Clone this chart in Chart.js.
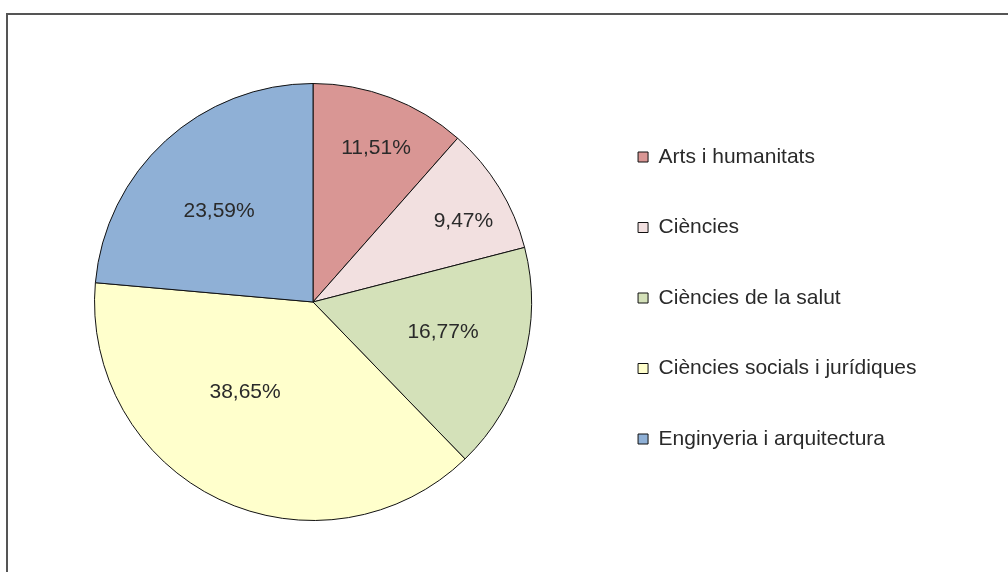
<!DOCTYPE html>
<html lang="ca">
<head>
<meta charset="utf-8">
<title>Matrícula per àmbits</title>
<script src="https://cdn.jsdelivr.net/npm/chart.js@4/dist/chart.umd.min.js"></script>
<style>
  html, body { margin: 0; padding: 0; background: #fff; overflow: hidden; }
  #wrap  { position: relative; width: 1008px; height: 572px; }
  #frame {
    position: absolute; left: 6px; top: 13px; width: 1010px; height: 570px;
    border-left: 2px solid #555; border-top: 2px solid #555;
  }
  canvas { position: absolute; left: 0; top: 0; }
</style>
</head>
<body>
<div id="wrap">
  <div id="frame"></div>
  <canvas id="pie-chart" width="1008" height="572"></canvas>
</div>
<script>
/* ── Data ── */
const AREAS  = ['Arts i humanitats', 'Ciències', 'Ciències de la salut', 'Ciències socials i jurídiques', 'Enginyeria i arquitectura'];
const SHARES = [11.51, 9.47, 16.77, 38.65, 23.59];

/* ── Styles ── */
const SLICE_COLORS = ['#d99694', '#f2e0e0', '#d4e1b9', '#ffffcc', '#8fb0d6'];
// label placement: distance as fraction of radius, and a small turn (deg) off the slice middle
const LABEL_RADIUS = [0.762, 0.782, 0.611, 0.518, 0.599];
const LABEL_TURN   = [1.5, 3.2, -2.5, 11.4, -3.4];
const FONT_FAMILY  = '"Liberation Sans", Arial, sans-serif';
const FONT_SIZE    = 21;
const TEXT_COLOR   = '#2a2a2a';

/* ── Percentage labels inside slices ── */
const sliceLabels = {
  id: 'sliceLabels',
  afterDatasetsDraw(chart) {
    const { ctx } = chart;
    const meta = chart.getDatasetMeta(0);
    ctx.save();
    ctx.font = FONT_SIZE + 'px ' + FONT_FAMILY;
    ctx.fillStyle = TEXT_COLOR;
    ctx.textAlign = 'center';
    ctx.textBaseline = 'middle';
    meta.data.forEach((arc, i) => {
      const p   = arc.getProps(['x', 'y', 'startAngle', 'endAngle', 'outerRadius'], true);
      const ang = (p.startAngle + p.endAngle) / 2 + LABEL_TURN[i] * Math.PI / 180;
      const r   = p.outerRadius * LABEL_RADIUS[i];
      const txt = SHARES[i].toFixed(2).replace('.', ',') + '%';
      ctx.fillText(txt, p.x + Math.cos(ang) * r, p.y + Math.sin(ang) * r);
    });
    ctx.restore();
  },
};

/* ── Lift legend a few px so it sits like the original ── */
const legendNudge = {
  id: 'legendNudge',
  afterLayout(chart) {
    if (!chart.legend) return;
    chart.legend.top    -= 4;
    chart.legend.bottom -= 4;
  },
};

/* ── Pie ── */
new Chart(document.getElementById('pie-chart'), {
  type: 'pie',
  data: {
    labels: AREAS,
    datasets: [{
      data:            SHARES,
      backgroundColor: SLICE_COLORS,
      borderColor:     '#111',
      borderWidth:     1,
      hoverOffset:     0,
    }],
  },
  options: {
    responsive: false,
    animation:  false,
    layout: { padding: { left: 37.5, right: 81.5, top: 83, bottom: 51 } },
    plugins: {
      tooltip: { enabled: false },
      legend: {
        position: 'right',
        align:    'center',
        labels: {
          boxWidth:  10,
          boxHeight: 10,
          padding:   49.5,
          color:     TEXT_COLOR,
          font:      { family: FONT_FAMILY, size: FONT_SIZE },
        },
      },
    },
  },
  plugins: [sliceLabels, legendNudge],
});
</script>
</body>
</html>
